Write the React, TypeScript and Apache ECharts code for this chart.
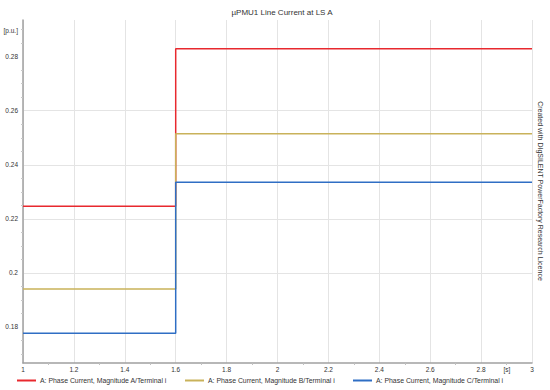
import React, { useEffect, useRef } from "react";
import * as echarts from "echarts";

const titleText = "µPMU1 Line Current at LS A";
const seriesNames = [
  "A: Phase Current, Magnitude A/Terminal i",
  "A: Phase Current, Magnitude B/Terminal i",
  "A: Phase Current, Magnitude C/Terminal i",
];
const seriesColors = ["#e8292e", "#c9b25a", "#2f6ec4"];
// step time (s)
const stepTime = 1.6;
const tStart = 1;
const tEnd = 3;
// values before and after the step (p.u.)
const valuesBefore = [0.2246, 0.194, 0.1776];
const valuesAfter = [0.283, 0.2515, 0.2335];
const yTicks = [0.18, 0.2, 0.22, 0.24, 0.26, 0.28];
const yUnit = "[p.u.]";
const xUnit = "[s]";
const licenceText = "Created with DIgSILENT PowerFactory Research Licence";

const FONT = "Liberation Sans, Arial, sans-serif";

export default function App() {
  const ref = useRef<HTMLDivElement>(null);
  useEffect(() => {
    if (!ref.current) return;
    const chart = echarts.init(ref.current, undefined, { renderer: "svg" });
    const series = seriesNames.map((name, i) => ({
      name,
      type: "line",
      data: [
        [tStart, valuesBefore[i]],
        [stepTime, valuesBefore[i]],
        [stepTime, valuesAfter[i]],
        [tEnd, valuesAfter[i]],
      ],
      showSymbol: false,
      symbol: "none",
      lineStyle: { color: seriesColors[i], width: 1.5 },
      itemStyle: { color: seriesColors[i] },
      z: 2 + i,
    }));
    const legendLefts = [22, 190, 358];
    chart.setOption({
      animation: false,
      textStyle: { fontFamily: FONT },
      title: {
        text: titleText,
        left: 277,
        textAlign: "center",
        top: 3,
        textStyle: { fontSize: 8, fontWeight: "normal", color: "#333", fontFamily: FONT },
      },
      legend: seriesNames.map((n, i) => ({
        data: [n],
        left: legendLefts[i] - 5,
        top: 377,
        icon: "rect",
        itemWidth: 19,
        itemHeight: 2,
        itemGap: 0,
        padding: 0,
        selectedMode: false,
        textStyle: { fontSize: 6.9, color: "#333", fontFamily: FONT, padding: [0, 0, 0, -1] },
      })),
      grid: { left: 23, right: 18, top: 20, bottom: 27, containLabel: false },
      xAxis: {
        type: "value",
        min: tStart,
        max: tEnd,
        interval: 0.2,
        axisLine: { lineStyle: { color: "#a0a0a0", width: 1.5 } },
        axisTick: { show: false },
        minorTick: { show: true, splitNumber: 2, length: 2, lineStyle: { color: "#c0c0c0" } },
        axisLabel: {
          fontSize: 6.5,
          color: "#333",
          margin: 3,
          fontFamily: FONT,
          formatter: (v: number) => String(Math.round(v * 10) / 10),
        },
        splitLine: { show: true, lineStyle: { color: "#e4e4e4", width: 1 } },
      },
      yAxis: {
        type: "value",
        min: 0.1666,
        max: 0.2936,
        splitNumber: 6,
        axisLine: { show: true, lineStyle: { color: "#a0a0a0", width: 1.5 } },
        axisTick: { show: false, customValues: yTicks },
        minorTick: { show: true, splitNumber: 4, length: 2, lineStyle: { color: "#c8c8c8" } },
        axisLabel: {
          fontSize: 6.5,
          color: "#333",
          margin: 5,
          fontFamily: FONT,
          customValues: yTicks,
          formatter: (v: number) => String(Math.round(v * 100) / 100),
        },
        splitLine: { show: true, showMaxLine: false, showMinLine: false, lineStyle: { color: "#e4e4e4", width: 1 } },
      },
      graphic: [
        {
          type: "text",
          x: 18,
          y: 30,
          style: { text: yUnit, fontSize: 6.5, fill: "#333", align: "right", verticalAlign: "middle", fontFamily: FONT },
        },
        {
          type: "text",
          x: 507,
          y: 369.5,
          style: { text: xUnit, fontSize: 6.5, fill: "#333", align: "center", verticalAlign: "middle", fontFamily: FONT },
        },
        {
          type: "text",
          x: 540,
          y: 191,
          rotation: -Math.PI / 2,
          style: { text: licenceText, fontSize: 7, fill: "#333", align: "center", verticalAlign: "middle", fontFamily: FONT },
        },
      ],
      series,
    });
    return () => chart.dispose();
  }, []);
  return <div ref={ref} style={{ width: 550, height: 390, position: "absolute", left: 0, top: 0 }} />;
}
